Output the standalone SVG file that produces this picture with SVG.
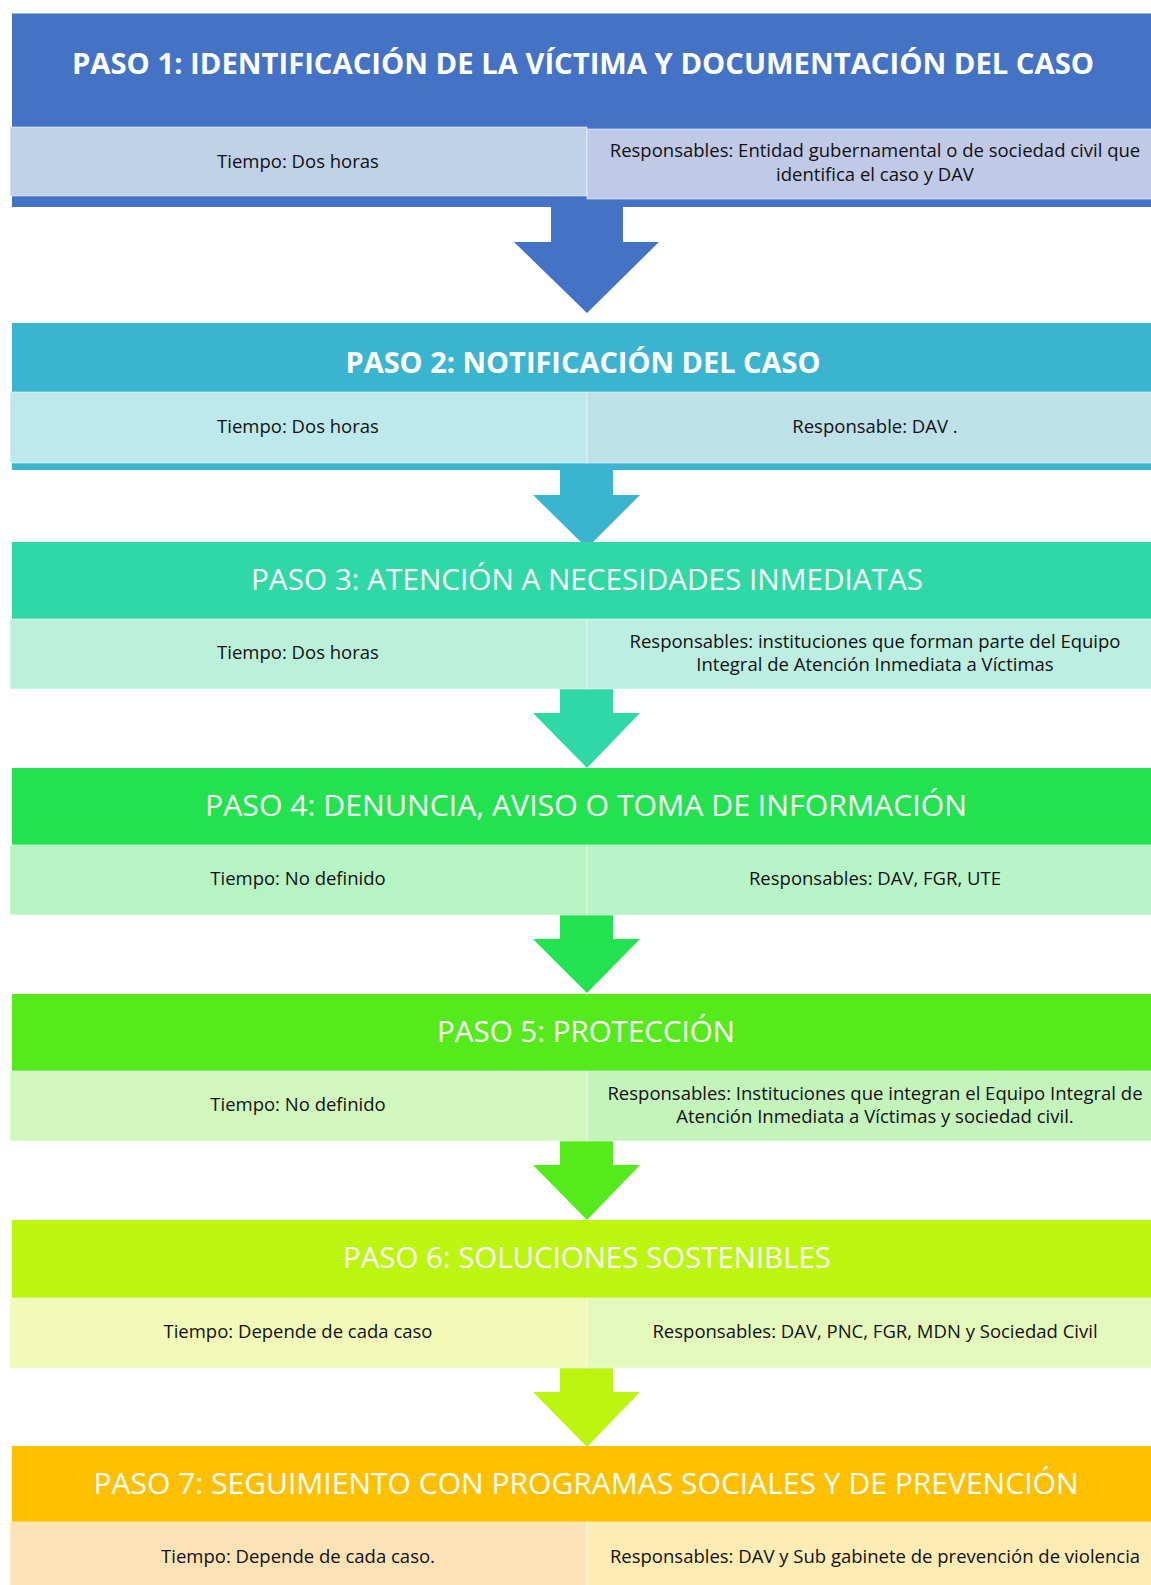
<svg xmlns="http://www.w3.org/2000/svg" width="1151" height="1585" viewBox="0 0 1151 1585">
<style>
.t{font-family:"Open Sans","Liberation Sans",sans-serif;fill:#ffffff;font-size:29px;text-anchor:middle}
.b{font-weight:bold}
.c{font-family:"Open Sans","Liberation Sans",sans-serif;fill:#111111;font-size:18.5px;text-anchor:middle}
.cell{stroke:#ffffff;stroke-opacity:0.35;stroke-width:1.5}
</style>
<rect width="1151" height="1585" fill="#ffffff"/>
<g id="connectors">
<polygon points="551,206 623,206 623,242 659,242 587,313 514,242 551,242" fill="#4472C4"/>
<polygon points="560,469 613,469 613,495 640,495 587,548 533,495 560,495" fill="#3BB5CF"/>
<polygon points="560,689 613,689 613,713 640,713 587,768 533,713 560,713" fill="#2FD8A4"/>
<polygon points="560,915 613,915 613,939 640,939 587,993 533,939 560,939" fill="#22E34F"/>
<polygon points="560,1141 613,1141 613,1165 640,1165 587,1220 533,1165 560,1165" fill="#55EA1C"/>
<polygon points="560,1368 613,1368 613,1392 640,1392 587,1447 533,1392 560,1392" fill="#BCF510"/>
</g>
<g id="paso1">
<rect x="12" y="13" width="1150" height="194" fill="#4472C4"/>
<line x1="12" y1="13.5" x2="1151" y2="13.5" stroke="#9DB4E0" stroke-width="1"/>
<rect class="cell" x="10" y="127" width="577" height="69" fill="#BFD2E8"/>
<rect class="cell" x="587" y="129" width="575" height="70" fill="#C0C9E5"/>
<text class="t b" x="583" y="74" textLength="1022" lengthAdjust="spacingAndGlyphs">PASO 1: IDENTIFICACIÓN DE LA VÍCTIMA Y DOCUMENTACIÓN DEL CASO</text>
<text class="c" x="298" y="168">Tiempo: Dos horas</text>
<text class="c" x="875" y="157">Responsables: Entidad gubernamental o de sociedad civil que</text>
<text class="c" x="875" y="181">identifica el caso y DAV</text>
</g>
<g id="paso2">
<rect x="12" y="323" width="1150" height="147" fill="#3BB5CF"/>
<rect class="cell" x="10" y="392" width="577" height="71" fill="#BDE9EC"/>
<rect class="cell" x="587" y="392" width="575" height="71" fill="#BEE0E9"/>
<text class="t b" x="583" y="373" textLength="475" lengthAdjust="spacingAndGlyphs">PASO 2: NOTIFICACIÓN DEL CASO</text>
<text class="c" x="298" y="433">Tiempo: Dos horas</text>
<text class="c" x="875" y="433">Responsable: DAV .</text>
</g>
<g id="paso3">
<rect x="12" y="542" width="1150" height="77" fill="#2FD8A4"/>
<rect class="cell" x="10" y="619" width="577" height="70" fill="#BBF0DB"/>
<rect class="cell" x="587" y="619" width="575" height="70" fill="#BCEEE1"/>
<text class="t" x="587" y="590" textLength="672" lengthAdjust="spacingAndGlyphs">PASO 3: ATENCIÓN A NECESIDADES INMEDIATAS</text>
<text class="c" x="298" y="659">Tiempo: Dos horas</text>
<text class="c" x="875" y="648">Responsables: instituciones que forman parte del Equipo</text>
<text class="c" x="875" y="671">Integral de Atención Inmediata a Víctimas</text>
</g>
<g id="paso4">
<rect x="12" y="768" width="1150" height="77" fill="#22E34F"/>
<rect class="cell" x="10" y="845" width="577" height="70" fill="#B7F4C4"/>
<rect class="cell" x="587" y="845" width="575" height="70" fill="#B8F4C8"/>
<text class="t" x="586" y="816" textLength="762" lengthAdjust="spacingAndGlyphs">PASO 4: DENUNCIA, AVISO O TOMA DE INFORMACIÓN</text>
<text class="c" x="298" y="885">Tiempo: No definido</text>
<text class="c" x="875" y="885">Responsables: DAV, FGR, UTE</text>
</g>
<g id="paso5">
<rect x="12" y="994" width="1150" height="77" fill="#55EA1C"/>
<rect class="cell" x="10" y="1071" width="577" height="70" fill="#D1F7BC"/>
<rect class="cell" x="587" y="1071" width="575" height="70" fill="#C4F4BC"/>
<text class="t" x="586" y="1042" textLength="298" lengthAdjust="spacingAndGlyphs">PASO 5: PROTECCIÓN</text>
<text class="c" x="298" y="1111">Tiempo: No definido</text>
<text class="c" x="875" y="1100">Responsables: Instituciones que integran el Equipo Integral de</text>
<text class="c" x="875" y="1123">Atención Inmediata a Víctimas y sociedad civil.</text>
</g>
<g id="paso6">
<rect x="12" y="1220" width="1150" height="78" fill="#BCF510"/>
<rect class="cell" x="10" y="1298" width="577" height="70" fill="#F1FAB9"/>
<rect class="cell" x="587" y="1298" width="575" height="70" fill="#E5F9BD"/>
<text class="t" x="587" y="1268" textLength="488" lengthAdjust="spacingAndGlyphs">PASO 6: SOLUCIONES SOSTENIBLES</text>
<text class="c" x="298" y="1338">Tiempo: Depende de cada caso</text>
<text class="c" x="875" y="1338">Responsables: DAV, PNC, FGR, MDN y Sociedad Civil</text>
</g>
<g id="paso7">
<rect x="12" y="1446" width="1150" height="76" fill="#FEC000"/>
<rect class="cell" x="10" y="1522" width="577" height="70" fill="#FDE2B5"/>
<rect class="cell" x="587" y="1522" width="575" height="70" fill="#FEECB4"/>
<text class="t" x="586" y="1494" textLength="985" lengthAdjust="spacingAndGlyphs">PASO 7: SEGUIMIENTO CON PROGRAMAS SOCIALES Y DE PREVENCIÓN</text>
<text class="c" x="298" y="1563">Tiempo: Depende de cada caso.</text>
<text class="c" x="875" y="1563">Responsables: DAV y Sub gabinete de prevención de violencia</text>
</g>
</svg>
